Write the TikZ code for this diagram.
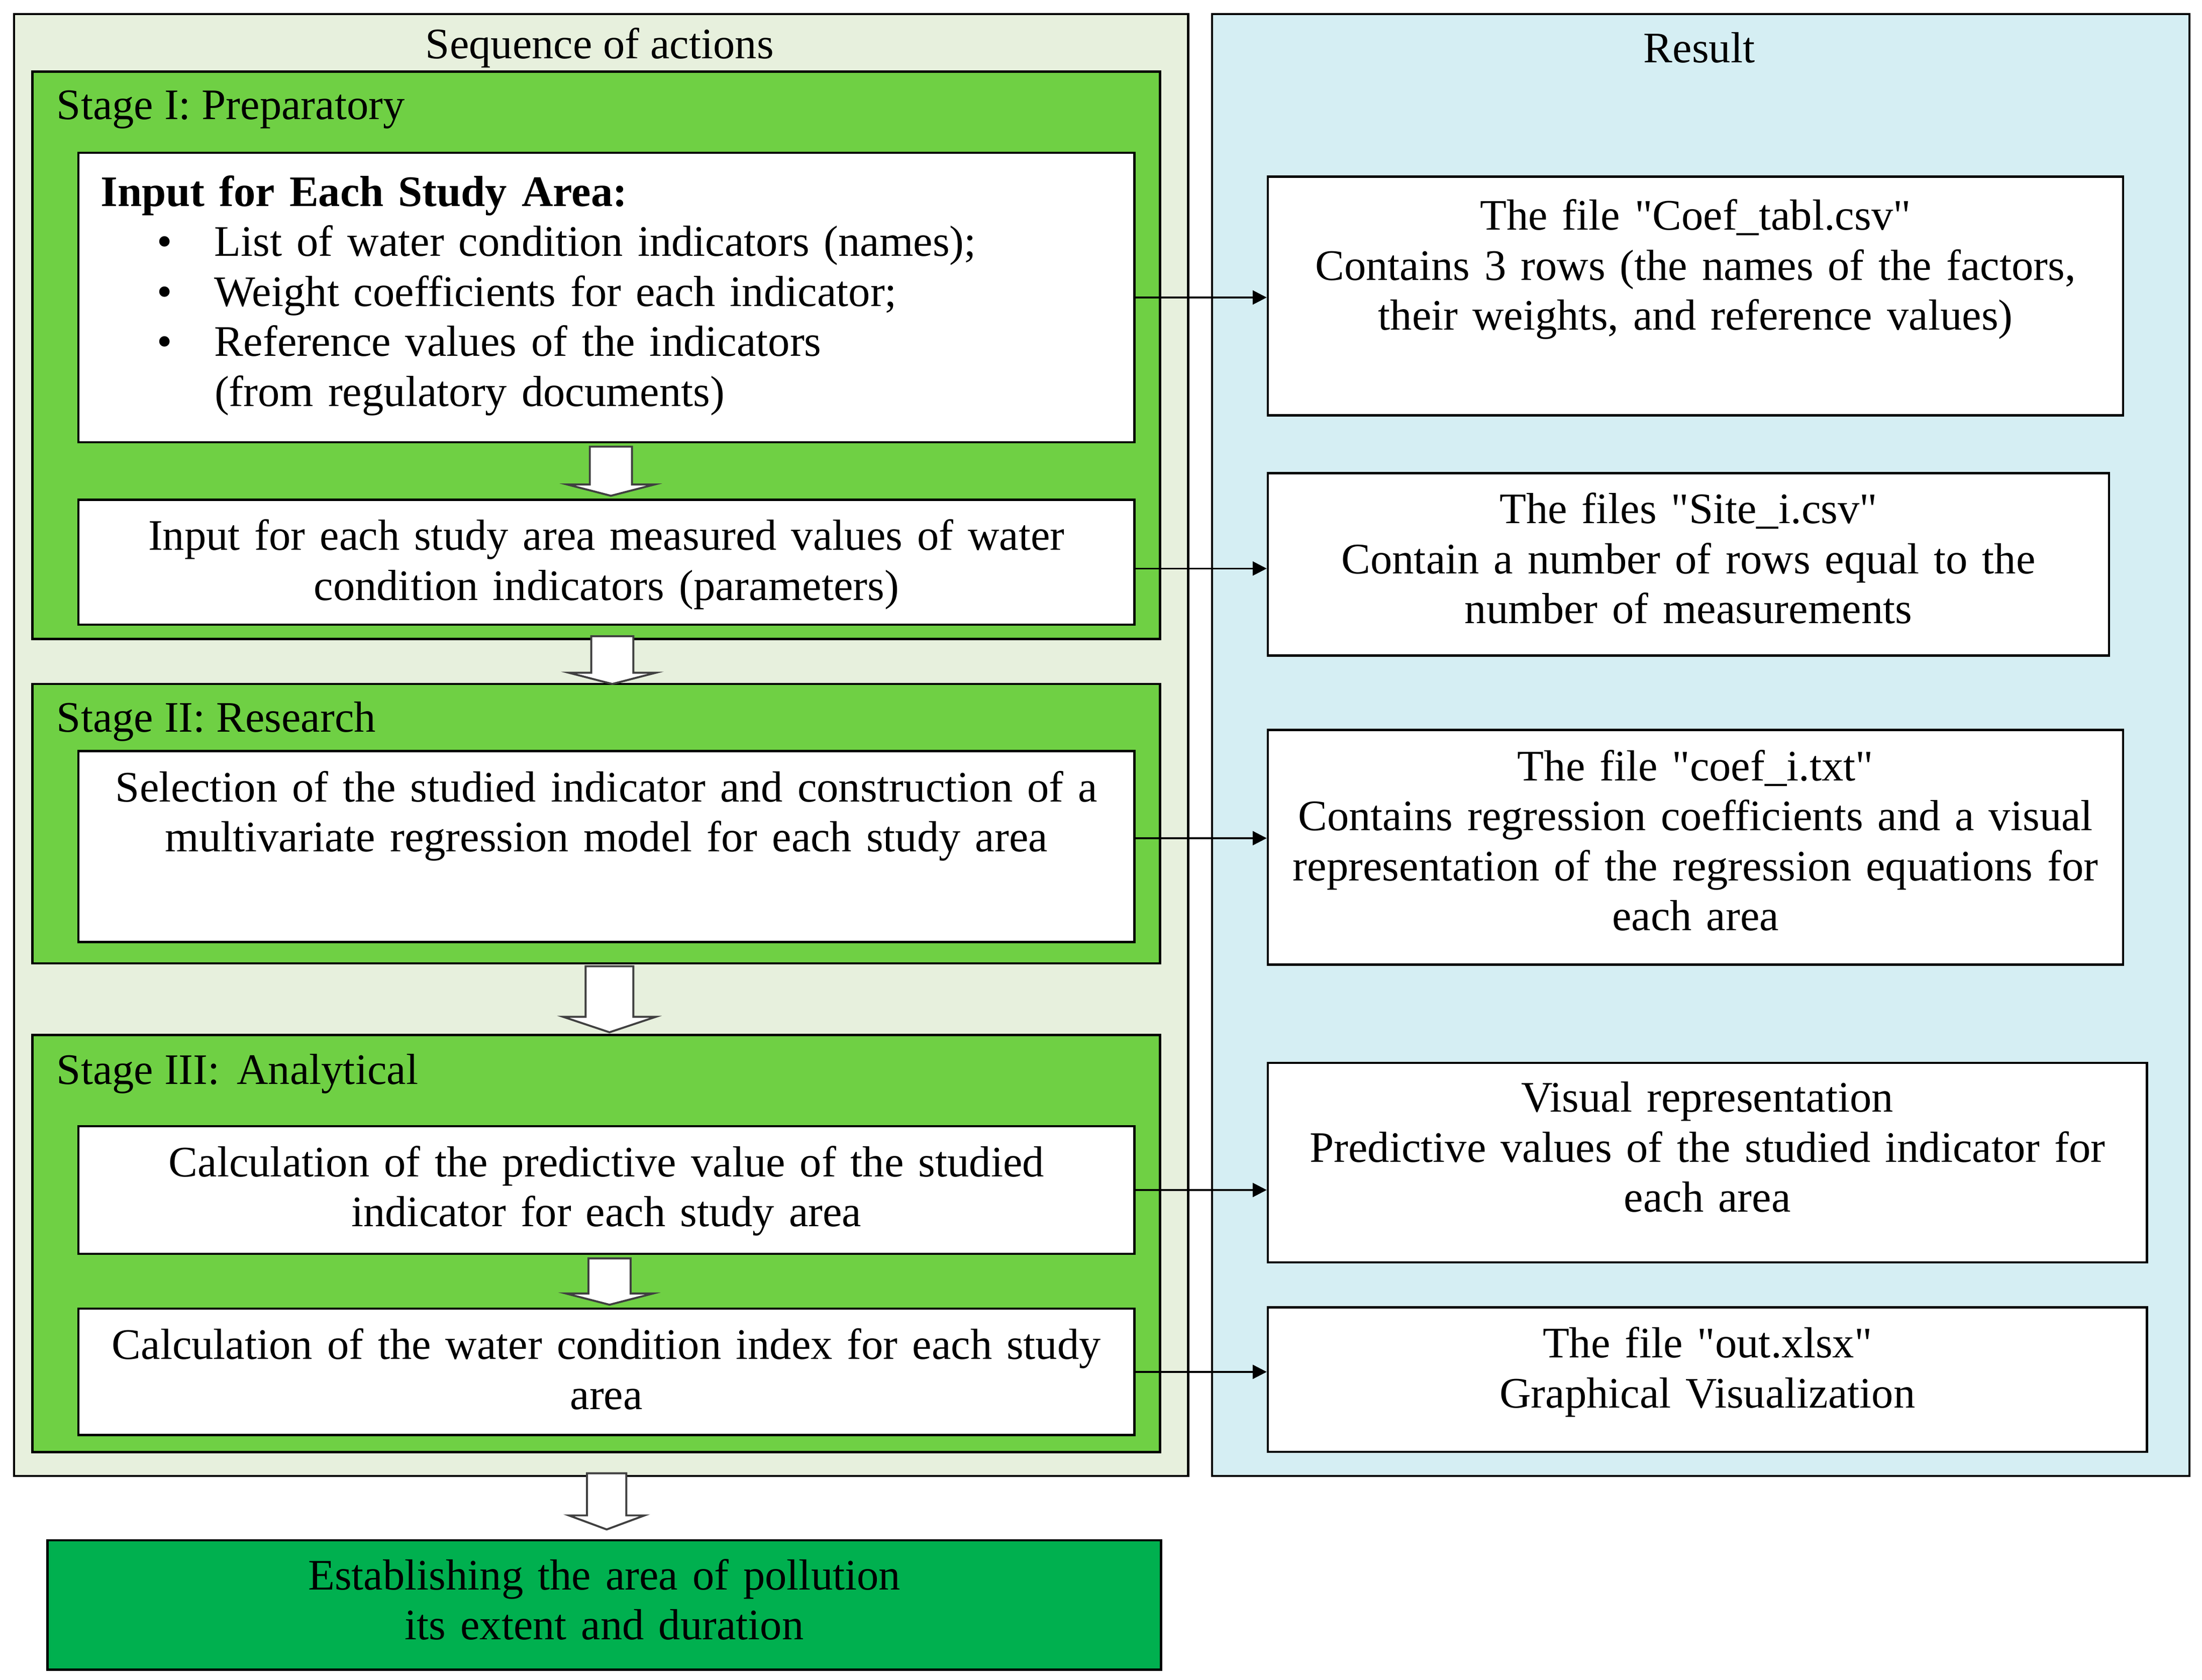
\documentclass[tikz,border=0pt]{standalone}
\usepackage{fontspec}
\setmainfont{Liberation Serif}
\usetikzlibrary{arrows.meta, calc, positioning}

\definecolor{seqgreen}{HTML}{E7F0DD}
\definecolor{stagegreen}{HTML}{6FD044}
\definecolor{resblue}{HTML}{D5EEF3}
\definecolor{fingreen}{HTML}{00B04F}

\begin{document}
\begin{tikzpicture}[x=0.5pt, y=-0.5pt,
		font=\fontsize{15.5}{17.8}\selectfont,
		panel/.style={draw=black, line width=0.8pt},
		textbox/.style={draw=black, line width=0.8pt, fill=white, anchor=north west,
			inner xsep=4pt, inner ysep=0pt, align=center},
		flow/.style={-{Triangle[length=5pt, width=5pt]}, line width=0.6pt},
		hollow/.style={draw=black!75, fill=white, line width=0.7pt, line join=miter}
	]
	\useasboundingbox (0,0) rectangle (1568,1196);
	
	% Panels
	\filldraw[panel, fill=seqgreen] (10,10) rectangle (846,1051);
	\filldraw[panel, fill=resblue] (863,10) rectangle (1559,1051);
	\node (seqtitle) at (427,34) {Sequence of actions};
	\node (restitle) at (1210,34) {Result};
	
	% Stages
	\filldraw[panel, fill=stagegreen] (23,51) rectangle (826,455);
	\filldraw[panel, fill=stagegreen] (23,487) rectangle (826,686);
	\filldraw[panel, fill=stagegreen] (23,737) rectangle (826,1034);
	\node[anchor=base west, inner xsep=0pt] (stage1) at (40,85) {Stage I: Preparatory};
	\node[anchor=base west, inner xsep=0pt] (stage2) at (40,521) {Stage II: Research};
	\node[anchor=base west, inner xsep=0pt] (stage3) at (40,772) {Stage III:\hspace{6pt}Analytical};
	
	% Sequence of actions
	\node[textbox, align=left, inner xsep=8pt, text width=360pt, text height=19pt, text depth=84pt] (in1) at (55,108)
		{\textbf{Input for Each Study Area:}\\
		\hspace*{20pt}\makebox[20.5pt][l]{\textbullet}List of water condition indicators (names);\\
		\hspace*{20pt}\makebox[20.5pt][l]{\textbullet}Weight coefficients for each indicator;\\
		\hspace*{20pt}\makebox[20.5pt][l]{\textbullet}Reference values of the indicators\\
		\hspace*{40.5pt}(from regulatory documents)};
	\node[textbox, text width=368pt, text height=18pt, text depth=26.5pt] (in2) at (55,355)
		{Input for each study area measured values of water\\condition indicators (parameters)};
	\node[textbox, text width=368pt, text height=18pt, text depth=50pt] (sel) at (55,534)
		{Selection of the studied indicator and construction of a\\multivariate regression model for each study area};
	\node[textbox, text width=368pt, text height=18pt, text depth=27.5pt] (pred) at (55,801)
		{Calculation of the predictive value of the studied\\indicator for each study area};
	\node[textbox, text width=368pt, text height=18pt, text depth=27pt] (idx) at (55,931)
		{Calculation of the water condition index for each study\\area};
	\node[textbox, fill=fingreen, text width=388.5pt, text height=17.5pt, text depth=28.5pt] (fin) at (33,1096)
		{Establishing the area of pollution\\its extent and duration};
	
	% Results
	\node[textbox, text width=296.5pt, text height=19pt, text depth=66pt] (coef) at (902,125)
		{The file \textquotedbl Coef\_tabl.csv\textquotedbl\\Contains 3 rows (the names of the factors,\\their weights, and reference values)};
	\node[textbox, text width=291.5pt, text height=18pt, text depth=47pt] (site) at (902,336)
		{The files \textquotedbl Site\_i.csv\textquotedbl\\Contain a number of rows equal to the\\number of measurements};
	\node[textbox, text width=296.5pt, text height=18pt, text depth=65.5pt] (coefi) at (902,519)
		{The file \textquotedbl coef\_i.txt\textquotedbl\\Contains regression coefficients and a visual\\representation of the regression equations for\\each area};
	\node[textbox, text width=305pt, text height=17.5pt, text depth=53.5pt] (vis) at (902,756)
		{Visual representation\\Predictive values of the studied indicator for\\each area};
	\node[textbox, text width=305pt, text height=18pt, text depth=33.5pt] (out) at (902,930)
		{The file \textquotedbl out.xlsx\textquotedbl\\Graphical Visualization};
	
	% Down arrows
	\foreach \ax/\ay/\ab/\ap/\sw/\hw in {435/318/345/353/15/31, 436/453/479/487/15/31,
		434/688/724/735/17/33, 434/896/921/929/15/31, 432/1049/1079/1089/14/27}
		\draw[hollow] (\ax-\sw,\ay) -- (\ax+\sw,\ay) -- (\ax+\sw,\ab) -- (\ax+\hw,\ab)
			-- (\ax,\ap) -- (\ax-\hw,\ab) -- (\ax-\sw,\ab) -- cycle;
	
	% Links to results
	\foreach \a/\b/\s in {in1/coef/0, in2/site/-2.25, sel/coefi/3, pred/vis/0, idx/out/0}
		\draw[flow] ([yshift=\s pt]\a.east) -- ([yshift=\s pt]\a.east -| \b.west);
\end{tikzpicture}
\end{document}
